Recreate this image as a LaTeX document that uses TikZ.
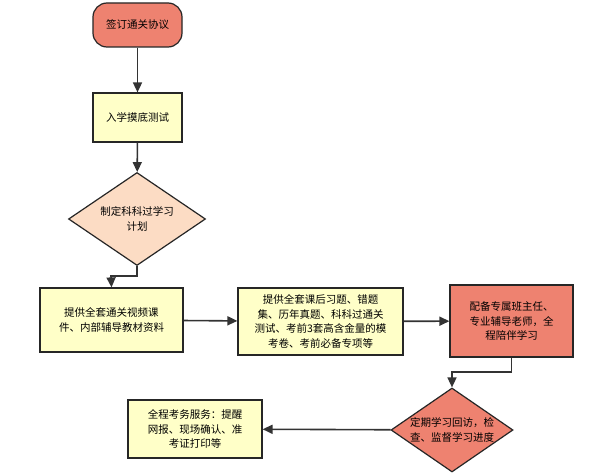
\documentclass[tikz,border=0pt]{standalone}
\usepackage{fontspec}
\setmainfont{Noto Sans CJK SC}
\usetikzlibrary{shapes.geometric,arrows.meta}
\definecolor{salm}{HTML}{EE8270}
\definecolor{lyel}{HTML}{FFFFC8}
\definecolor{peach}{HTML}{FCDCC4}
\begin{document}
\begin{tikzpicture}[x=1pt,y=-1pt,
  yel/.style={draw=black!85,line width=1.2pt,fill=lyel,align=center,font=\fontsize{10.5}{14.5}\selectfont},
  sal/.style={draw=black!85,line width=1.2pt,fill=salm,align=center,font=\fontsize{10.5}{14.5}\selectfont},
  conn/.style={line width=1.6pt,draw=black!80,-{Triangle[length=10pt,width=9pt]}}]
\useasboundingbox[fill=white] (0,0) rectangle (600,476);
\node[sal,rounded corners=14pt,minimum width=89pt,minimum height=44pt] (a) at (137.5,25) {签订通关协议};
\node[yel,minimum width=89pt,minimum height=49pt] (b) at (137.5,117.5) {入学摸底测试};
\node[draw=black!85,line width=1.2pt,fill=peach,diamond,aspect=1.47,inner sep=0pt,minimum width=137pt,minimum height=93pt,align=center,font=\fontsize{10.5}{14.5}\selectfont] (c) at (137,219) {制定科科过学习\\计划};
\node[yel,minimum width=143pt,minimum height=64pt] (d) at (111.5,320) {提供全套通关视频课\\件、内部辅导教材资料};
\node[yel,minimum width=165pt,minimum height=67pt] (e) at (320.5,321.5) {提供全套课后习题、错题\\集、历年真题、科科过通关\\测试、考前3套高含金量的模\\考卷、考前必备专项等};
\node[sal,minimum width=123pt,minimum height=72pt] (f) at (511.5,321) {配备专属班主任、\\专业辅导老师，全\\程陪伴学习};
\node[draw=black!85,line width=1.2pt,fill=salm,diamond,aspect=1.45,inner sep=0pt,minimum width=122pt,minimum height=84pt,align=center,font=\fontsize{10.5}{14.5}\selectfont] (g) at (452,430) {定期学习回访，检\\查、监督学习进度};
\node[yel,minimum width=134pt,minimum height=58pt] (h) at (195,429) {全程考务服务：提醒\\网报、现场确认、准\\考证打印等};
\draw[conn] (a) -- (b);
\draw[conn] (b) -- (c);
\draw[conn] (c.south) |- (111,276) -- (d.north);
\draw[conn] (d) -- (e);
\draw[conn] (e) -- (f);
\draw[conn] (f.south) |- (452,372) -- (g.north);
\draw[conn] (g) -- (h);
\end{tikzpicture}
\end{document}
